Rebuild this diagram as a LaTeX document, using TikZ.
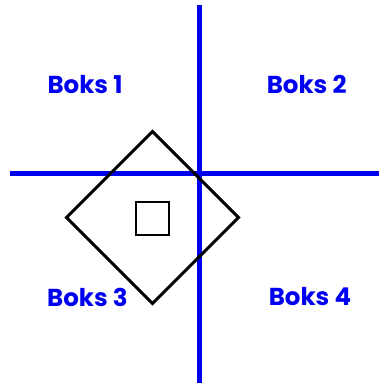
\documentclass[tikz,border=0pt]{standalone}
\usepackage{fontspec}
\setmainfont{Poppins}
\definecolor{boxblue}{RGB}{0,0,240}
\begin{document}
\begin{tikzpicture}[x=1pt,y=-1pt,
  axisline/.style={draw=boxblue,line width=5pt},
  diamondline/.style={draw=black,line width=3pt,line join=miter},
  sqbox/.style={draw=black,line width=2pt},
  lbl/.style={text=boxblue,font=\bfseries\fontsize{24.5}{24.5}\selectfont,inner sep=0pt,anchor=center}]
\useasboundingbox (0,0) rectangle (379,388);
\coordinate (vt) at (199.3,5);
\coordinate (vb) at (199.3,383);
\coordinate (hl) at (10,173);
\coordinate (hr) at (379,173);
\coordinate (dt) at (152.5,131.5);
\coordinate (dr) at (238.5,217.5);
\coordinate (db) at (152.5,303.5);
\coordinate (dl) at (66.5,217.5);
\draw[axisline] (vt) -- (vb);
\draw[axisline] (hl) -- (hr);
\draw[diamondline] (dt) -- (dr) -- (db) -- (dl) -- cycle;
\node[sqbox,minimum size=33pt,inner sep=0pt] (sq) at (152.5,218.3) {};
\node[lbl] (b1) at (85,84.5) {Boks 1};
\node[lbl] (b2) at (306.7,84.5) {Boks 2};
\node[lbl] (b3) at (87.5,297) {Boks 3};
\node[lbl] (b4) at (310,297) {Boks 4};
\end{tikzpicture}
\end{document}
